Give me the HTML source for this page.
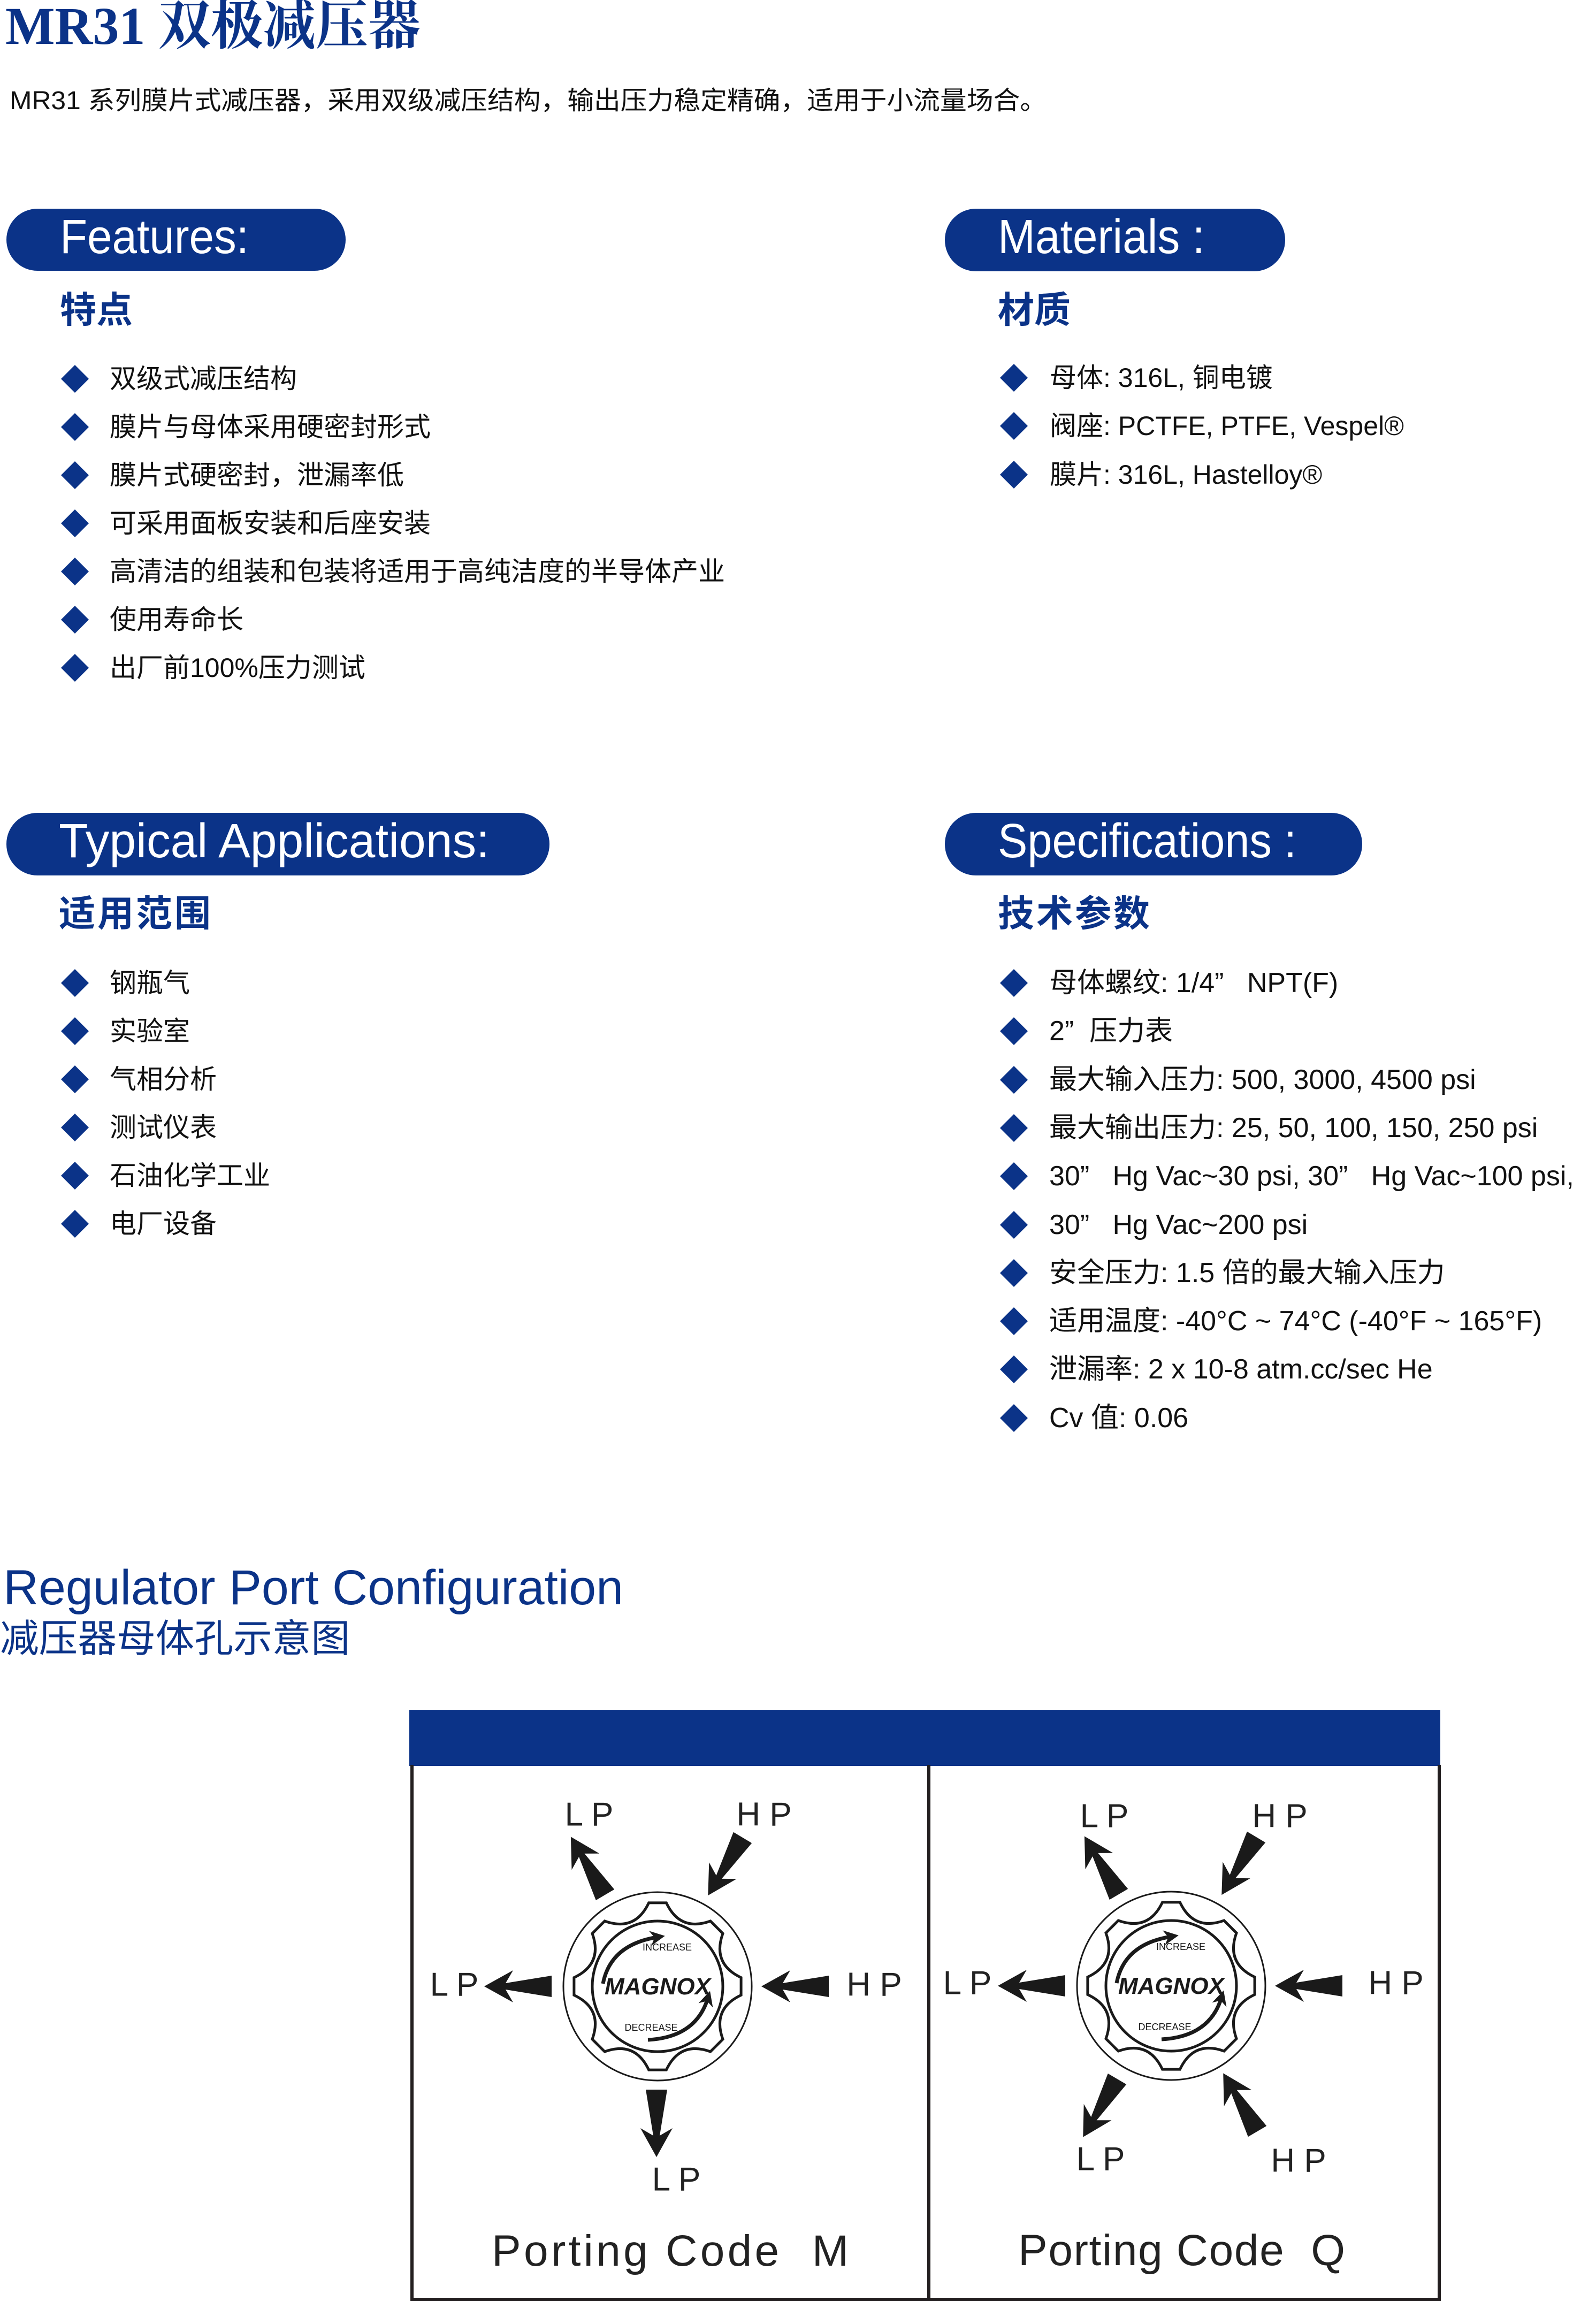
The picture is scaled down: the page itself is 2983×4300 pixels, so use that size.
<!DOCTYPE html>
<html><head><meta charset="utf-8"><style>
html,body{margin:0;padding:0;background:#fff;}
svg{display:block;}
.b{fill:#0b3388;}
.li{font-family:"Liberation Sans","Noto Sans CJK SC",sans-serif;font-size:52px;fill:#111;dominant-baseline:central;}
.ls{font-size:50px;}
.pill{font-family:"Liberation Sans","Noto Sans CJK SC",sans-serif;font-size:90px;fill:#fff;}
.cn{font-family:"Liberation Sans","Noto Sans CJK SC",sans-serif;font-size:68px;fill:#0b3388;font-weight:bold;}
.lab{font-family:"Liberation Sans",sans-serif;font-size:62px;fill:#222;text-anchor:middle;dominant-baseline:central;}
.pc{font-family:"Liberation Sans",sans-serif;font-size:82px;fill:#222;}
</style></head><body>
<svg width="2983" height="4300" viewBox="0 0 2983 4300" xmlns="http://www.w3.org/2000/svg">
<defs>
<polygon id="arr" points="0,-20 86,-6 72,-30 126,0 72,30 86,6 0,20" fill="#1a1a1a"/>
<marker id="mh" viewBox="0 0 10 10" refX="5" refY="5" markerWidth="4" markerHeight="4" orient="auto"><path d="M0,0 L10,5 L0,10 L3,5 Z" fill="#1a1a1a"/></marker>
<g id="knob">
<circle cx="0" cy="0" r="176" fill="none" stroke="#1a1a1a" stroke-width="3"/>
<path d="M156.1,-16.4 L156.1,16.4 Q101.6,42.1 122,98.8 L98.8,122 Q42.1,101.6 16.4,156.1 L-16.4,156.1 Q-42.1,101.6 -98.8,122 L-122,98.8 Q-101.6,42.1 -156.1,16.4 L-156.1,-16.4 Q-101.6,-42.1 -122,-98.8 L-98.8,-122 Q-42.1,-101.6 -16.4,-156.1 L16.4,-156.1 Q42.1,-101.6 98.8,-122 L122,-98.8 Q101.6,-42.1 156.1,-16.4 Z" fill="none" stroke="#1a1a1a" stroke-width="5"/>
<circle cx="0" cy="0" r="122" fill="none" stroke="#1a1a1a" stroke-width="5"/>
<path d="M-102,-5 Q-88,-78 0,-92" fill="none" stroke="#1a1a1a" stroke-width="7" marker-end="url(#mh)"/>
<path d="M-18,100 Q72,95 94,22" fill="none" stroke="#1a1a1a" stroke-width="7" marker-end="url(#mh)"/>
<text x="0" y="15" text-anchor="middle" font-family="Liberation Sans,sans-serif" font-weight="bold" font-style="italic" font-size="44" fill="#1a1a1a">MAGNOX</text>
<text x="18" y="-67" text-anchor="middle" font-family="Liberation Sans,sans-serif" font-size="18" fill="#1a1a1a">INCREASE</text>
<text x="-12" y="83" text-anchor="middle" font-family="Liberation Sans,sans-serif" font-size="18" fill="#1a1a1a">DECREASE</text>
</g>
</defs>

<text x="10" y="82" textLength="776" lengthAdjust="spacingAndGlyphs" font-family="Liberation Serif,'Noto Serif CJK SC',serif" font-weight="bold" font-size="100" class="b">MR31 双极减压器</text>
<text x="18" y="204" textLength="1938" lengthAdjust="spacingAndGlyphs" font-family="Liberation Sans,'Noto Sans CJK SC',sans-serif" font-size="48" fill="#111">MR31 系列膜片式减压器，采用双级减压结构，输出压力稳定精确，适用于小流量场合。</text>

<rect x="12" y="390" width="634" height="116" rx="58" class="b"/>
<text x="112" y="473" textLength="353" lengthAdjust="spacingAndGlyphs" class="pill">Features:</text>
<rect x="1766" y="390" width="636" height="117" rx="58" class="b"/>
<text x="1865" y="473" textLength="387" lengthAdjust="spacingAndGlyphs" class="pill">Materials :</text>
<rect x="12" y="1519" width="1015" height="117" rx="58" class="b"/>
<text x="110" y="1602" textLength="805" lengthAdjust="spacingAndGlyphs" class="pill">Typical Applications:</text>
<rect x="1766" y="1519" width="780" height="117" rx="58" class="b"/>
<text x="1865" y="1602" textLength="558" lengthAdjust="spacingAndGlyphs" class="pill">Specifications :</text>

<text x="112" y="603" class="cn">特点</text>
<text x="1865" y="603" class="cn">材质</text>
<text x="110" y="1731" class="cn" letter-spacing="4">适用范围</text>
<text x="1865" y="1731" class="cn" letter-spacing="4">技术参数</text>

<g class="b">
<polygon points="140,682 166,708 140,734 114,708"/>
<polygon points="140,772 166,798 140,824 114,798"/>
<polygon points="140,862 166,888 140,914 114,888"/>
<polygon points="140,952 166,978 140,1004 114,978"/>
<polygon points="140,1042 166,1068 140,1094 114,1068"/>
<polygon points="140,1132 166,1158 140,1184 114,1158"/>
<polygon points="140,1222 166,1248 140,1274 114,1248"/>
</g>
<text x="205" y="708" class="li ls">双级式减压结构</text>
<text x="205" y="798" class="li ls">膜片与母体采用硬密封形式</text>
<text x="205" y="888" class="li ls">膜片式硬密封，泄漏率低</text>
<text x="205" y="978" class="li ls">可采用面板安装和后座安装</text>
<text x="205" y="1068" class="li ls">高清洁的组装和包装将适用于高纯洁度的半导体产业</text>
<text x="205" y="1158" class="li ls">使用寿命长</text>
<text x="205" y="1248" class="li ls">出厂前100%压力测试</text>

<g class="b">
<polygon points="1895,680 1921,706 1895,732 1869,706"/>
<polygon points="1895,770 1921,796 1895,822 1869,796"/>
<polygon points="1895,861 1921,887 1895,913 1869,887"/>
</g>
<text x="1962" y="706" class="li ls">母体: 316L, 铜电镀</text>
<text x="1962" y="796" class="li ls">阀座: PCTFE, PTFE, Vespel®</text>
<text x="1962" y="887" class="li ls">膜片: 316L, Hastelloy®</text>

<g class="b">
<polygon points="140,1811 166,1837 140,1863 114,1837"/>
<polygon points="140,1901 166,1927 140,1953 114,1927"/>
<polygon points="140,1991 166,2017 140,2043 114,2017"/>
<polygon points="140,2081 166,2107 140,2133 114,2107"/>
<polygon points="140,2171 166,2197 140,2223 114,2197"/>
<polygon points="140,2261 166,2287 140,2313 114,2287"/>
</g>
<text x="205" y="1837" class="li ls">钢瓶气</text>
<text x="205" y="1927" class="li ls">实验室</text>
<text x="205" y="2017" class="li ls">气相分析</text>
<text x="205" y="2107" class="li ls">测试仪表</text>
<text x="205" y="2197" class="li ls">石油化学工业</text>
<text x="205" y="2287" class="li ls">电厂设备</text>

<g class="b">
<polygon points="1895,1811 1921,1837 1895,1863 1869,1837"/>
<polygon points="1895,1901 1921,1927 1895,1953 1869,1927"/>
<polygon points="1895,1992 1921,2018 1895,2044 1869,2018"/>
<polygon points="1895,2082 1921,2108 1895,2134 1869,2108"/>
<polygon points="1895,2172 1921,2198 1895,2224 1869,2198"/>
<polygon points="1895,2263 1921,2289 1895,2315 1869,2289"/>
<polygon points="1895,2353 1921,2379 1895,2405 1869,2379"/>
<polygon points="1895,2443 1921,2469 1895,2495 1869,2469"/>
<polygon points="1895,2533 1921,2559 1895,2585 1869,2559"/>
<polygon points="1895,2624 1921,2650 1895,2676 1869,2650"/>
</g>
<text x="1961" y="1837" class="li" xml:space="preserve">母体螺纹: 1/4”   NPT(F)</text>
<text x="1961" y="1927" class="li" xml:space="preserve">2”  压力表</text>
<text x="1961" y="2018" class="li">最大输入压力: 500, 3000, 4500 psi</text>
<text x="1961" y="2108" class="li">最大输出压力: 25, 50, 100, 150, 250 psi</text>
<text x="1961" y="2198" class="li" xml:space="preserve">30”   Hg Vac~30 psi, 30”   Hg Vac~100 psi,</text>
<text x="1961" y="2289" class="li" xml:space="preserve">30”   Hg Vac~200 psi</text>
<text x="1961" y="2379" class="li">安全压力: 1.5 倍的最大输入压力</text>
<text x="1961" y="2469" class="li">适用温度: -40°C ~ 74°C (-40°F ~ 165°F)</text>
<text x="1961" y="2559" class="li">泄漏率: 2 x 10-8 atm.cc/sec He</text>
<text x="1961" y="2650" class="li">Cv 值: 0.06</text>

<text x="6" y="2998" textLength="1159" lengthAdjust="spacingAndGlyphs" font-family="Liberation Sans,sans-serif" font-size="92" class="b">Regulator Port Configuration</text>
<text x="0" y="3087" textLength="654" lengthAdjust="spacingAndGlyphs" font-family="Liberation Sans,'Noto Sans CJK SC',sans-serif" font-size="72" class="b">减压器母体孔示意图</text>

<rect x="765" y="3196" width="1927" height="104" class="b"/>
<g stroke="#231f20" stroke-width="6" fill="none">
<line x1="770" y1="3298" x2="770" y2="4300"/>
<line x1="1736" y1="3298" x2="1736" y2="4300"/>
<line x1="2690" y1="3298" x2="2690" y2="4300"/>
<line x1="767" y1="4297" x2="2693" y2="4297"/>
</g>

<use href="#knob" transform="translate(1229,3712)"/>
<use href="#arr" transform="translate(1131,3541) rotate(-120.6)"/>
<use href="#arr" transform="translate(1388,3434) rotate(120.9)"/>
<use href="#arr" transform="translate(1031,3712) rotate(180)"/>
<use href="#arr" transform="translate(1549,3712) rotate(180)"/>
<use href="#arr" transform="translate(1227,3905) rotate(90)"/>
<text x="1101" y="3391" class="lab" xml:space="preserve">L P</text>
<text x="1428" y="3391" class="lab" xml:space="preserve">H P</text>
<text x="849" y="3709" class="lab" xml:space="preserve">L P</text>
<text x="1634" y="3709" class="lab" xml:space="preserve">H P</text>
<text x="1264" y="4073" class="lab" xml:space="preserve">L P</text>
<text x="919" y="4234" textLength="667" lengthAdjust="spacing" class="pc" xml:space="preserve">Porting Code  M</text>

<use href="#knob" transform="translate(2189,3711)"/>
<use href="#arr" transform="translate(2091,3540) rotate(-120.6)"/>
<use href="#arr" transform="translate(2348,3433) rotate(120.9)"/>
<use href="#arr" transform="translate(1991,3711) rotate(180)"/>
<use href="#arr" transform="translate(2509,3711) rotate(180)"/>
<use href="#arr" transform="translate(2088,3885) rotate(120.4)"/>
<use href="#arr" transform="translate(2350,3983) rotate(-120.4)"/>
<text x="2064" y="3394" class="lab" xml:space="preserve">L P</text>
<text x="2392" y="3394" class="lab" xml:space="preserve">H P</text>
<text x="1808" y="3706" class="lab" xml:space="preserve">L P</text>
<text x="2609" y="3706" class="lab" xml:space="preserve">H P</text>
<text x="2057" y="4035" class="lab" xml:space="preserve">L P</text>
<text x="2427" y="4038" class="lab" xml:space="preserve">H P</text>
<text x="1903" y="4233" textLength="611" lengthAdjust="spacing" class="pc" xml:space="preserve">Porting Code  Q</text>
</svg>
</body></html>
